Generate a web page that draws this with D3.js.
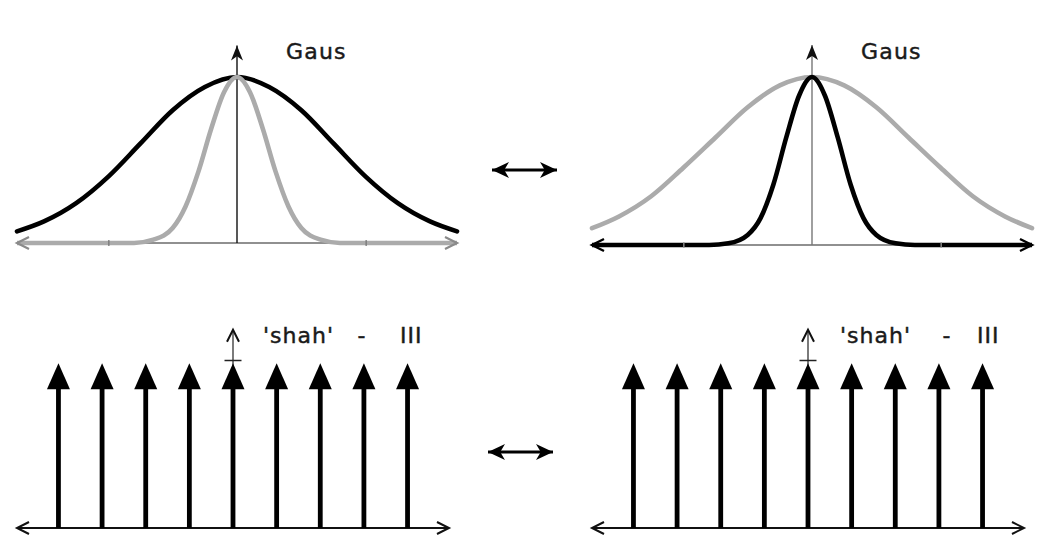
<!DOCTYPE html>
<html>
<head>
<meta charset="utf-8">
<script src="https://cdn.jsdelivr.net/npm/d3@7"></script>
<style>
  body { margin: 0; background: #fff; }
  text { font-family: "DejaVu Sans", sans-serif; font-size: 22px; fill: #1a1a1a; stroke: #1a1a1a; stroke-width: 0.45px; }
</style>
</head>
<body>
<svg id="chart" width="1060" height="558"></svg>
<script>
var wideX = [-1.71, -1.5, -1.25, -1, -0.75, -0.5, -0.25, 0, 0.25, 0.5, 0.75, 1, 1.25, 1.5, 1.71];
var wideLeftY = [0.07, 0.13, 0.24, 0.40, 0.60, 0.80, 0.94, 1, 0.94, 0.80, 0.60, 0.40, 0.24, 0.13, 0.07];
var wideRightY = [0.10, 0.17, 0.29, 0.46, 0.64, 0.82, 0.95, 1, 0.95, 0.82, 0.64, 0.46, 0.29, 0.17, 0.10];

var narrowX = [-1.71, -1, -0.8, -0.65, -0.5, -0.4, -0.3, -0.2, -0.1, 0, 0.1, 0.2, 0.3, 0.4, 0.5, 0.65, 0.8, 1, 1.71];
var narrowLeftY = [0, 0, 0, 0.02, 0.09, 0.22, 0.43, 0.69, 0.91, 1, 0.91, 0.69, 0.43, 0.22, 0.09, 0.02, 0, 0, 0];
var narrowRightY = [0, 0, 0, 0.01, 0.06, 0.16, 0.36, 0.64, 0.89, 1, 0.89, 0.64, 0.36, 0.16, 0.06, 0.01, 0, 0, 0];

var xTicks = [-1, 1];

// shah (comb) function
var shahN = [-4, -3, -2, -1, 0, 1, 2, 3, 4];
var shahH = [0.98, 0.98, 0.98, 0.98, 0.98, 0.98, 0.98, 0.98, 0.98];
var yTicks = [1];

var gausLabel = "Gaus";
var shahLabels = ["'shah'", "-", "III"];

var GREY = "#ababab", BLACK = "#000";

var svg = d3.select("#chart");
var defs = svg.append("defs");

function openHead(id, color, w) {
  defs.append("marker")
      .attr("id", id)
      .attr("markerUnits", "userSpaceOnUse")
      .attr("viewBox", "-15 -9 18 18")
      .attr("markerWidth", 18).attr("markerHeight", 18)
      .attr("refX", 0).attr("refY", 0)
      .attr("orient", "auto-start-reverse")
    .append("path")
      .attr("d", "M-12,-6 L0,0 L-12,6")
      .attr("fill", "none")
      .attr("stroke", color)
      .attr("stroke-width", w);
}
function filledHead(id, color, len, half) {
  defs.append("marker")
      .attr("id", id)
      .attr("markerUnits", "userSpaceOnUse")
      .attr("viewBox", (-len - 2) + " " + (-half - 2) + " " + (len + 4) + " " + (2 * half + 4))
      .attr("markerWidth", len + 4).attr("markerHeight", 2 * half + 4)
      .attr("refX", 0).attr("refY", 0)
      .attr("orient", "auto-start-reverse")
    .append("path")
      .attr("d", "M0,0 L" + (-len) + "," + (-half) + " L" + (-len * 0.72) + ",0 L" + (-len) + "," + half + " Z")
      .attr("fill", color);
}
openHead("openGrey", "#8a8a8a", 2.2);
openHead("openBlack", BLACK, 2.4);
openHead("openThin", "#111", 2);
filledHead("upHead", "#111", 15, 6);
filledHead("bigHead", BLACK, 17, 8);

// ---------- gaussian panels ----------
var gaussPanels = [
  {cx: 237, axisY: 243, wide: wideLeftY, narrow: narrowLeftY, wideColor: BLACK, narrowColor: GREY, vColor: "#111", tickColor: "#777", head: "openGrey"},
  {cx: 812, axisY: 245, wide: wideRightY, narrow: narrowRightY, wideColor: GREY, narrowColor: BLACK, vColor: "#777", tickColor: "#999", head: "openBlack"}
];

gaussPanels.forEach(function(p) {
  var x = d3.scaleLinear().domain([-1.71, 1.71]).range([p.cx - 220, p.cx + 220]);
  var y = d3.scaleLinear().domain([0, 1]).range([p.axisY, 77]);
  var g = svg.append("g");

  var line = d3.line()
      .x(function(d) { return x(d[0]); })
      .y(function(d) { return y(d[1]); })
      .curve(d3.curveMonotoneX);

  // thin x axis
  g.append("line")
      .attr("x1", x(-1.71)).attr("x2", x(1.71))
      .attr("y1", y(0)).attr("y2", y(0))
      .attr("stroke", "#222").attr("stroke-width", 1.2);

  // vertical axis with arrow
  g.append("line")
      .attr("x1", x(0)).attr("x2", x(0))
      .attr("y1", y(0)).attr("y2", y(1.19))
      .attr("stroke", p.vColor).attr("stroke-width", 1.4)
      .attr("marker-end", "url(#upHead)");

  g.append("path")
      .datum(d3.zip(wideX, p.wide))
      .attr("d", line)
      .attr("fill", "none")
      .attr("stroke", p.wideColor)
      .attr("stroke-width", 4.6)
      .attr("stroke-linecap", "round");

  g.append("path")
      .datum(d3.zip(narrowX, p.narrow))
      .attr("d", line)
      .attr("fill", "none")
      .attr("stroke", p.narrowColor)
      .attr("stroke-width", 4.6)
      .attr("stroke-linejoin", "round")
      .attr("marker-start", "url(#" + p.head + ")")
      .attr("marker-end", "url(#" + p.head + ")");

  var ax = g.append("g")
      .attr("transform", "translate(0," + (y(0) - 3) + ")")
      .call(d3.axisBottom(x).tickValues(xTicks).tickSize(6).tickFormat(""));
  ax.select(".domain").remove();
  ax.selectAll(".tick line").attr("stroke", p.tickColor).attr("stroke-width", 1.3);

  g.append("text")
      .attr("x", p.cx + 49)
      .attr("y", 59)
      .attr("letter-spacing", 1.2)
      .text(gausLabel);
});

// ---------- shah panels ----------
var shahPanels = [
  {cx: 233, axisY: 528, labelX: [30, 129, 167]},
  {cx: 808, axisY: 528, labelX: [32, 139, 169]}
];

shahPanels.forEach(function(p) {
  var x = d3.scaleLinear().domain([-4.95, 4.95]).range([p.cx - 216, p.cx + 216]);
  var y = d3.scaleLinear().domain([0, 1]).range([p.axisY, 360]);
  var g = svg.append("g");

  g.append("line")
      .attr("x1", x(-4.95)).attr("x2", x(4.95))
      .attr("y1", y(0)).attr("y2", y(0))
      .attr("stroke", "#111").attr("stroke-width", 1.8)
      .attr("marker-start", "url(#openThin)")
      .attr("marker-end", "url(#openThin)");

  g.append("line")
      .attr("x1", x(0)).attr("x2", x(0))
      .attr("y1", y(0)).attr("y2", y(1.18))
      .attr("stroke", "#333").attr("stroke-width", 1.3)
      .attr("marker-end", "url(#openThin)");

  var ay = g.append("g")
      .attr("transform", "translate(" + (x(0) + 8.5) + ",0)")
      .call(d3.axisLeft(y).tickValues(yTicks).tickSize(17).tickFormat(""));
  ay.select(".domain").remove();
  ay.selectAll(".tick line").attr("stroke", "#222").attr("stroke-width", 1.5);

  var spikes = g.selectAll(".spike")
      .data(d3.zip(shahN, shahH))
    .enter().append("g")
      .attr("class", "spike");

  spikes.append("line")
      .attr("x1", function(d) { return x(d[0]); })
      .attr("x2", function(d) { return x(d[0]); })
      .attr("y1", y(0))
      .attr("y2", function(d) { return y(d[1]) + 22; })
      .attr("stroke", BLACK)
      .attr("stroke-width", 4.8);

  spikes.append("path")
      .attr("d", function(d) {
        var cx = x(d[0]), ty = y(d[1]);
        return "M" + cx + "," + ty + " L" + (cx - 11.5) + "," + (ty + 26) + " L" + (cx + 11.5) + "," + (ty + 26) + " Z";
      })
      .attr("fill", BLACK);

  g.selectAll(".lbl")
      .data(shahLabels)
    .enter().append("text")
      .attr("class", "lbl")
      .attr("x", function(d, i) { return p.cx + p.labelX[i]; })
      .attr("y", 343)
      .attr("letter-spacing", 1)
      .attr("text-anchor", function(d, i) { return i === 1 ? "middle" : "start"; })
      .text(function(d) { return d; });
});

// ---------- transform-pair arrows ----------
[[492, 557, 170], [488, 553, 452]].forEach(function(a) {
  svg.append("line")
      .attr("x1", a[0]).attr("x2", a[1])
      .attr("y1", a[2]).attr("y2", a[2])
      .attr("stroke", BLACK).attr("stroke-width", 3)
      .attr("marker-start", "url(#bigHead)")
      .attr("marker-end", "url(#bigHead)");
});
</script>
</body>
</html>
